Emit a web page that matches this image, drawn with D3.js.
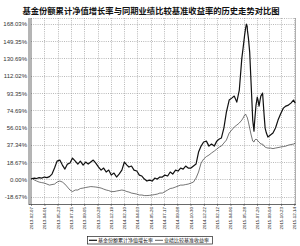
<!DOCTYPE html>
<html>
  <head>
    <meta charset="UTF-8">
    <script src="https://d3js.org/d3.v7.min.js"></script>
    <style>
        body { margin: 0; background: #fff; }
        svg { display: block; }
        .title { font-family: "Noto Sans CJK SC", sans-serif; font-weight: bold; font-size: 8.3px; fill: #111; }
        .ylab { font-family: "Liberation Sans", Arial, sans-serif; font-size: 6px; fill: #333; }
        .xlab { font-family: "Liberation Sans", Arial, sans-serif; font-size: 4.4px; fill: #111; }
        .legend { font-family: "Noto Sans CJK SC", sans-serif; font-size: 5px; fill: #111; }
    </style>
  </head>
  <body>
    <script>
        let titleText = '基金份额累计净值增长率与同期业绩比较基准收益率的历史走势对比图'
        let seriesNames = ['基金份额累计净值增长率', '业绩比较基准收益率']

        let dates = [
            '2013-02-07', '2013-02-11', '2013-02-21', '2013-03-01', '2013-03-11', '2013-03-21', '2013-04-01', '2013-04-11', '2013-04-21',
            '2013-05-01', '2013-05-11', '2013-05-21', '2013-06-01', '2013-06-11', '2013-06-21', '2013-07-01', '2013-07-11', '2013-07-21',
            '2013-08-01', '2013-08-11', '2013-08-21', '2013-09-01', '2013-09-11', '2013-09-21', '2013-10-01', '2013-10-11',
            '2013-10-21', '2013-11-01', '2013-11-11', '2013-11-21', '2013-12-01', '2013-12-11', '2013-12-21', '2014-01-01',
            '2014-01-11', '2014-01-21', '2014-02-01', '2014-02-11', '2014-02-21', '2014-03-01', '2014-03-11', '2014-03-21',
            '2014-04-01', '2014-04-11', '2014-04-21', '2014-05-01', '2014-05-11', '2014-05-21', '2014-06-01', '2014-06-11',
            '2014-06-21', '2014-07-01', '2014-07-11', '2014-07-21', '2014-08-01', '2014-08-11', '2014-08-21', '2014-09-01',
            '2014-09-11', '2014-09-21', '2014-10-01', '2014-10-11', '2014-10-21', '2014-11-01', '2014-11-11', '2014-11-21',
            '2014-12-01', '2014-12-11', '2014-12-21', '2015-01-01', '2015-01-11', '2015-01-21', '2015-02-01', '2015-02-11',
            '2015-02-21', '2015-03-01', '2015-03-11', '2015-03-21', '2015-04-01', '2015-04-11', '2015-04-21', '2015-05-01',
            '2015-05-11', '2015-05-21', '2015-05-26', '2015-06-01', '2015-06-05', '2015-06-08', '2015-06-11', '2015-06-12',
            '2015-06-16', '2015-06-21', '2015-06-26', '2015-07-01', '2015-07-03', '2015-07-08', '2015-07-11', '2015-07-16',
            '2015-07-21', '2015-07-24', '2015-07-28', '2015-08-01', '2015-08-04', '2015-08-11', '2015-08-17', '2015-08-21',
            '2015-08-26', '2015-09-01', '2015-09-11', '2015-09-21', '2015-10-01', '2015-10-11', '2015-10-21', '2015-11-01',
            '2015-11-11', '2015-11-21', '2015-12-01', '2015-12-11', '2015-12-18'
        ]

        let fundValues = [
            0.3, 0.9, 1.4, 0.9, 1.9, 1.4, 2.5, 1.9, 3.0,
            5.7, 12.2, 19.7, 20.8, 15.4, 11.1, 16.5, 17.6, 23.0,
            19.7, 16.5, 19.7, 15.4, 18.7, 16.5, 18.7, 20.8,
            17.6, 13.3, 10.0, 12.2, 7.9, 10.0, 4.6, 6.8,
            2.5, 5.7, 10.0, 18.7, 15.4, 13.3, 14.4, 10.0,
            9.0, 4.6, 3.6, 0.3, -1.8, -0.8, -1.8, 1.4,
            0.3, 2.5, 2.5, 4.6, 3.6, 7.9, 5.7, 10.0,
            9.0, 12.2, 11.1, 14.4, 12.2, 12.2, 14.4, 16.5,
            29.5, 35.9, 40.3, 41.3, 35.9, 38.1, 35.9, 41.3,
            43.5, 44.6, 55.4, 72.6, 85.6, 87.7, 89.9, 83.4,
            96.4, 130.9, 141.7, 155.7, 163.3, 167.6, 165.4, 161.1,
            152.5, 137.4, 107.2, 76.9, 64.0, 52.1, 64.0, 80.2,
            88.8, 85.6, 79.1, 85.6, 89.9, 93.1, 69.4, 55.4,
            50.0, 45.7, 47.9, 50.0, 55.4, 64.0, 70.5, 76.9,
            79.1, 80.2, 82.3, 85.6, 82.3
        ]

        let benchValues = [
            0.3, 0.9, -0.8, -1.8, -2.9, -3.5, -4.0, -5.1, -6.2,
            -5.6, -5.1, -2.9, -1.8, -2.9, -5.1, -8.3, -11.5, -13.2,
            -11.5, -11.5, -9.9, -9.4, -8.8, -8.3, -7.8, -8.0,
            -8.3, -8.8, -9.4, -10.5, -11.5, -12.1, -13.2, -13.2,
            -12.6, -12.1, -11.5, -12.1, -13.2, -13.7, -14.8, -15.3,
            -15.9, -16.9, -16.9, -17.5, -17.5, -17.3, -16.9, -16.4,
            -15.9, -14.8, -14.8, -13.2, -11.5, -9.9, -9.4, -8.3,
            -7.2, -6.2, -6.2, -5.6, -5.1, -4.0, -2.9, 1.4,
            7.9, 17.6, 21.9, 24.6, 26.2, 28.4, 30.5, 32.7,
            34.9, 35.9, 39.2, 42.4, 50.0, 53.2, 56.5, 58.6,
            60.8, 64.0, 66.2, 69.4, 70.5, 68.3, 67.2, 66.2,
            61.8, 55.4, 48.9, 43.5, 41.3, 40.3, 42.4, 43.5,
            42.4, 41.3, 40.3, 39.2, 38.1, 38.1, 35.9, 34.9,
            34.3, 33.8, 33.8, 33.2, 33.8, 34.3, 34.9, 35.4,
            35.9, 37.0, 37.6, 38.1, 39.2
        ]

        let xTickDates = [
            '2013-02-07', '2013-04-01', '2013-05-23', '2013-07-15', '2013-09-05', '2013-10-28', '2013-12-19',
            '2014-02-10', '2014-04-03', '2014-05-26', '2014-07-17', '2014-09-08', '2014-10-30', '2014-12-22',
            '2015-02-12', '2015-04-06', '2015-05-28', '2015-07-20', '2015-09-04', '2015-10-23', '2015-12-14'
        ]
        let yTickValues = [-18.67, 0, 18.67, 37.34, 56.01, 74.69, 93.35, 112.02, 130.69, 149.35, 168.03]
        let yTickLabels = ['-18.67%', '0.00%', '18.67%', '37.34%', '56.01%', '74.69%', '93.35%', '112.02%', '130.69%', '149.35%', '168.03%']

        let parse = d3.timeParse('%Y-%m-%d')
        let svgWidth = 300, svgHeight = 246
        let plot = {left: 31, right: 296, top: 18, bottom: 204}

        let x = d3.scaleTime()
            .domain([parse('2013-02-07'), parse('2015-12-21')])
            .range([plot.left, plot.right])
        let y = d3.scaleLinear()
            .domain([-26.6, 174.2])
            .range([plot.bottom, plot.top])

        let svg = d3.select('body').append('svg')
            .attr('width', svgWidth)
            .attr('height', svgHeight)

        svg.append('text')
            .attr('class', 'title')
            .attr('x', 151)
            .attr('y', 14)
            .attr('text-anchor', 'middle')
            .text(titleText)

        // grid
        let grid = svg.append('g')
        grid.selectAll('.hgrid')
            .data(yTickValues)
            .enter()
            .append('line')
            .attr('x1', plot.left)
            .attr('x2', plot.right)
            .attr('y1', d => Math.round(y(d)) + 0.5)
            .attr('y2', d => Math.round(y(d)) + 0.5)
            .attr('stroke', '#8a8a8a')
            .attr('stroke-width', 0.6)
            .attr('stroke-dasharray', '1,1.2')
        grid.selectAll('.vgrid')
            .data(xTickDates.slice(1))
            .enter()
            .append('line')
            .attr('x1', d => Math.round(x(parse(d))) + 0.5)
            .attr('x2', d => Math.round(x(parse(d))) + 0.5)
            .attr('y1', plot.top)
            .attr('y2', plot.bottom)
            .attr('stroke', '#8a8a8a')
            .attr('stroke-width', 0.6)
            .attr('stroke-dasharray', '1,1.2')
        grid.append('line')
            .attr('x1', plot.left).attr('x2', plot.right)
            .attr('y1', plot.top + 0.5).attr('y2', plot.top + 0.5)
            .attr('stroke', '#8a8a8a').attr('stroke-width', 0.6)
            .attr('stroke-dasharray', '1,1.2')
        grid.append('line')
            .attr('x1', plot.right - 0.5).attr('x2', plot.right - 0.5)
            .attr('y1', plot.top).attr('y2', plot.bottom)
            .attr('stroke', '#9a9a9a').attr('stroke-width', 0.8)

        // lines
        let line = vals => d3.line()
            .x((d, i) => x(parse(dates[i])))
            .y(d => y(d))(vals)

        svg.append('path')
            .attr('d', line(benchValues))
            .attr('fill', 'none')
            .attr('stroke', '#3a3a3a')
            .attr('stroke-width', 0.7)
        svg.append('path')
            .attr('d', line(fundValues))
            .attr('fill', 'none')
            .attr('stroke', '#111')
            .attr('stroke-width', 1.2)
            .attr('stroke-linejoin', 'round')

        // axes
        let yAxis = svg.append('g')
            .attr('transform', `translate(${plot.left}, 0)`)
            .call(d3.axisLeft(y).tickValues(yTickValues).tickSize(0).tickFormat((d, i) => yTickLabels[i]))
        yAxis.select('.domain').remove()
        yAxis.selectAll('text')
            .attr('class', 'ylab')
            .attr('x', -4)
            .attr('dy', '0.35em')
            .attr('font-size', null)
            .attr('font-family', null)
            .attr('fill', null)

        svg.append('line')
            .attr('x1', plot.left - 2).attr('x2', plot.left - 2)
            .attr('y1', plot.top).attr('y2', plot.bottom + 1)
            .attr('stroke', '#444').attr('stroke-width', 0.8)
        svg.append('line')
            .attr('x1', plot.left).attr('x2', plot.left)
            .attr('y1', plot.top).attr('y2', plot.bottom)
            .attr('stroke', '#444').attr('stroke-width', 0.8)

        let xAxis = svg.append('g')
            .attr('transform', `translate(0, ${plot.bottom})`)
            .call(d3.axisBottom(x).tickValues(xTickDates.map(parse)).tickSize(2).tickFormat((d, i) => xTickDates[i]))
        xAxis.select('.domain')
            .attr('d', `M${plot.left - 2},0.5H${plot.right}`)
            .attr('stroke', '#444')
            .attr('stroke-width', 0.8)
        xAxis.selectAll('.tick line')
            .attr('stroke', '#444')
            .attr('stroke-width', 0.6)
        xAxis.selectAll('text')
            .attr('class', 'xlab')
            .attr('font-size', null)
            .attr('font-family', null)
            .attr('fill', null)
            .attr('text-anchor', 'end')
            .attr('transform', 'rotate(-90)')
            .attr('x', -3)
            .attr('y', 0)
            .attr('dy', '0.35em')

        // legend
        let legend = svg.append('g')
        legend.append('rect')
            .attr('x', 87.5).attr('y', 236.5)
            .attr('width', 125).attr('height', 7.5)
            .attr('fill', '#fff')
            .attr('stroke', '#222')
            .attr('stroke-width', 0.7)
        let legendItems = [
            {name: seriesNames[0], x0: 89, color: '#111', w: 1.2},
            {name: seriesNames[1], x0: 155, color: '#3a3a3a', w: 0.8}
        ]
        legendItems.forEach(d => {
            legend.append('line')
                .attr('x1', d.x0).attr('x2', d.x0 + 8)
                .attr('y1', 240.3).attr('y2', 240.3)
                .attr('stroke', d.color).attr('stroke-width', d.w)
            legend.append('text')
                .attr('class', 'legend')
                .attr('x', d.x0 + 9)
                .attr('y', 242.1)
                .text(d.name)
        })
    </script>
  </body>
</html>
